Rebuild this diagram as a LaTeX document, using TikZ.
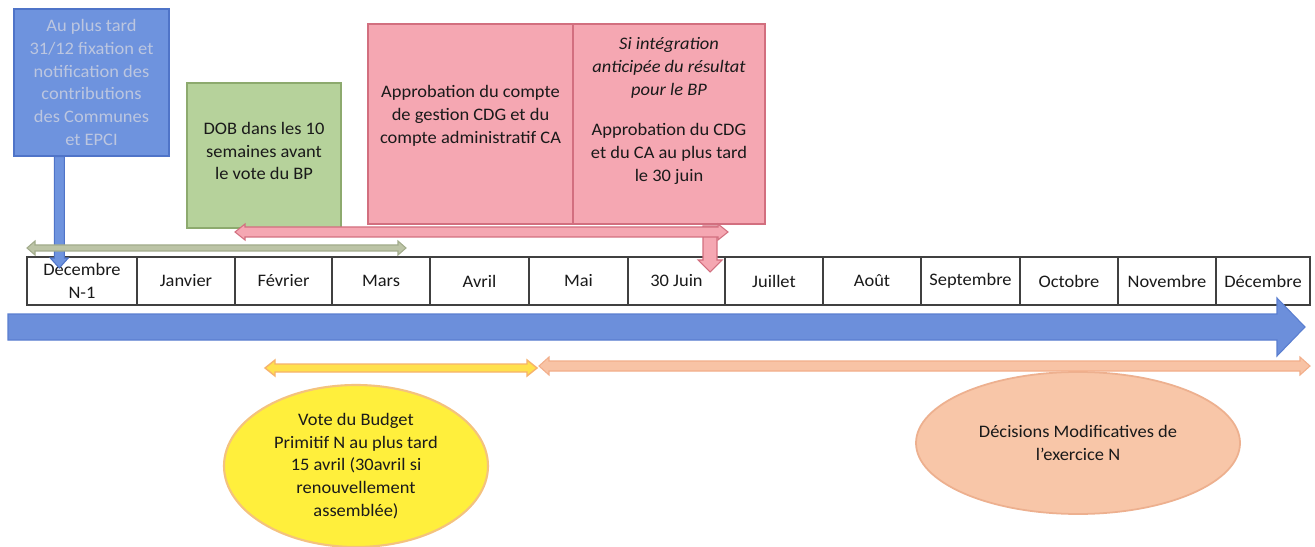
\documentclass[tikz,border=0pt]{standalone}
\usepackage{fontspec}
\setmainfont{Carlito}[FakeStretch=1.05]
\usetikzlibrary{shapes.geometric,calc}
\definecolor{blueFill}{HTML}{6E93DE}
\definecolor{blueDraw}{HTML}{4F74C8}
\definecolor{blueText}{HTML}{BCC6E0}
\definecolor{greenFill}{HTML}{B6D29B}
\definecolor{greenDraw}{HTML}{8DAA6E}
\definecolor{pinkFill}{HTML}{F5A7B2}
\definecolor{pinkDraw}{HTML}{D26F7F}
\definecolor{grayFill}{HTML}{BCC4A6}
\definecolor{grayDraw}{HTML}{A2AC8C}
\definecolor{yelFill}{HTML}{FFE14D}
\definecolor{yelDraw}{HTML}{F7B26B}
\definecolor{oraFill}{HTML}{F8C3A5}
\definecolor{oraDraw}{HTML}{F2AE8A}
\definecolor{yelEll}{HTML}{FFEF3C}
\definecolor{yelEllDraw}{HTML}{F4C27E}
\definecolor{peachEll}{HTML}{F8C6A8}
\definecolor{peachEllDraw}{HTML}{EDB08F}
\definecolor{bigBlue}{HTML}{6C8FDB}
\definecolor{bigBlueDraw}{HTML}{5A7ED0}
\definecolor{txt}{HTML}{1A1A1A}
\newcommand\pxu{0.02cm}
% horizontal double block arrow: style, left end, right end, half shaft, half head, head length
\newcommand\hdarrow[6]{%
  \path[#1] let \p1=(#2), \p2=(#3) in
    (\x1,\y1) -- (\x1+#6*\pxu,\y1+#5*\pxu) -- (\x1+#6*\pxu,\y1+#4*\pxu)
    -- (\x2-#6*\pxu,\y1+#4*\pxu) -- (\x2-#6*\pxu,\y1+#5*\pxu) -- (\x2,\y1)
    -- (\x2-#6*\pxu,\y1-#5*\pxu) -- (\x2-#6*\pxu,\y1-#4*\pxu)
    -- (\x1+#6*\pxu,\y1-#4*\pxu) -- (\x1+#6*\pxu,\y1-#5*\pxu) -- cycle;}
% horizontal single block arrow pointing right
\newcommand\hsarrow[6]{%
  \path[#1] let \p1=(#2), \p2=(#3) in
    (\x1,\y1+#4*\pxu) -- (\x2-#6*\pxu,\y1+#4*\pxu) -- (\x2-#6*\pxu,\y1+#5*\pxu)
    -- (\x2,\y1) -- (\x2-#6*\pxu,\y1-#5*\pxu) -- (\x2-#6*\pxu,\y1-#4*\pxu)
    -- (\x1,\y1-#4*\pxu) -- cycle;}
% vertical single block arrow pointing down
\newcommand\vsarrow[6]{%
  \path[#1] let \p1=(#2), \p2=(#3) in
    (\x1-#4*\pxu,\y1) -- (\x1-#4*\pxu,\y2+#6*\pxu) -- (\x1-#5*\pxu,\y2+#6*\pxu)
    -- (\x1,\y2) -- (\x1+#5*\pxu,\y2+#6*\pxu) -- (\x1+#4*\pxu,\y2+#6*\pxu)
    -- (\x1+#4*\pxu,\y1) -- cycle;}
\begin{document}
\begin{tikzpicture}[x=0.02cm,y=-0.02cm,
  every node/.style={font=\fontsize{10}{13}\selectfont, text=txt},
  boxstyle/.style={draw, line width=0.8pt, align=center, inner sep=2pt},
  bluebox/.style={boxstyle, fill=blueFill, draw=blueDraw, text=blueText},
  greenbox/.style={boxstyle, fill=greenFill, draw=greenDraw},
  pinkbox/.style={boxstyle, fill=pinkFill, draw=pinkDraw},
  plain/.style={align=center, inner sep=0pt},
  cell/.style={draw=black!75, line width=0.7pt, fill=white, align=center, inner sep=0pt, minimum height=48*\pxu},
  ellyellow/.style={ellipse, draw=yelEllDraw, line width=1.2pt, fill=yelEll, align=center, inner sep=0pt},
  ellpeach/.style={ellipse, draw=peachEllDraw, line width=1pt, fill=peachEll, align=center, inner sep=0pt},
  arrblue/.style={fill=blueFill, draw=blueDraw, line width=0.6pt},
  arrpink/.style={fill=pinkFill, draw=pinkDraw, line width=0.6pt},
  arrgray/.style={fill=grayFill, draw=grayDraw, line width=0.6pt},
  arryellow/.style={fill=yelFill, draw=yelDraw, line width=0.8pt},
  arrorange/.style={fill=oraFill, draw=oraDraw, line width=0.6pt},
  arrbig/.style={fill=bigBlue, draw=bigBlueDraw, line width=0.6pt}]
\useasboundingbox (0,0) rectangle (1315,547);
\fill[white] (0,0) rectangle (1315,547);

% top boxes
\node[bluebox, minimum width=155*\pxu, minimum height=147*\pxu] (contrib) at (91.5,82.5)
  {Au plus tard\\31/12 fixation et\\notification des\\contributions\\des Communes\\et EPCI};
\node[greenbox, minimum width=154*\pxu, minimum height=145*\pxu] (dob) at (264,155.5) {};
\node[plain] (dobtext) at (264,151) {DOB dans les 10\\semaines avant\\le vote du BP};
\node[pinkbox, minimum width=205*\pxu, minimum height=200*\pxu] (ca) at (470.5,124) {};
\node[plain] (catext) at (470.5,116) {Approbation du compte\\de gestion CDG et du\\compte administratif CA};
\node[pinkbox, minimum width=192*\pxu, minimum height=200*\pxu] (cdg) at (669,124) {};
\node[plain, anchor=north] (cdgtext) at (669,37)
  {\textit{Si intégration}\\\textit{anticipée du résultat}\\\textit{pour le BP}\\[10pt]Approbation du CDG\\et du CA au plus tard\\le 30 juin};

% month table
\foreach \a/\b/\t/\n in {27/137/{Décembre\\N-1}/m0, 137/235/Janvier/m1, 235/332/Février/m2,
  332/430/Mars/m3, 430/529/Avril/m4, 529/628/Mai/m5, 628/725/30 Juin/m6,
  725/823/Juillet/m7, 823/921/Août/m8, 921/1020/Septembre/m9, 1020/1118/Octobre/m10,
  1118/1216/Novembre/m11, 1216/1310/Décembre/m12}
  \node[cell, minimum width={(\b-\a)*\pxu}] (\n) at ({(\a+\b)/2},281) {\t};

% ellipses
\node[ellyellow, minimum width=264*\pxu, minimum height=162*\pxu] (vote) at (356,466)
  {Vote du Budget\\Primitif N au plus tard\\15 avril (30avril si\\renouvellement\\assemblée)};
\node[ellpeach, minimum width=324*\pxu, minimum height=142*\pxu] (dm) at (1078,443)
  {Décisions Modificatives de\\l'exercice N};

% connectors / timeline arrows
\coordinate (bTop) at ([xshift=46*\pxu]contrib.south west);
\coordinate (bTip) at (60,268);
\vsarrow{arrblue}{bTop}{bTip}{5}{9}{10}

\coordinate (gL) at (27,248);
\coordinate (gR) at (406,248);
\hdarrow{arrgray}{gL}{gR}{3}{7}{8}

\coordinate (pDownTop) at (710,226);
\coordinate (pDownTip) at (710,272);
\vsarrow{arrpink}{pDownTop}{pDownTip}{7}{12}{12}
\coordinate (pL) at (235,232);
\coordinate (pR) at (728,232);
\hdarrow{arrpink}{pL}{pR}{5}{8}{10}

\coordinate (tL) at (8,327);
\coordinate (tR) at (1305,327);
\hsarrow{arrbig}{tL}{tR}{13}{29}{28}

\coordinate (yL) at (265,368);
\coordinate (yR) at (537,368);
\hdarrow{arryellow}{yL}{yR}{4}{8}{10}
\coordinate (oL) at (539,366);
\coordinate (oR) at (1310,366);
\hdarrow{arrorange}{oL}{oR}{5}{9}{10}
\end{tikzpicture}
\end{document}
